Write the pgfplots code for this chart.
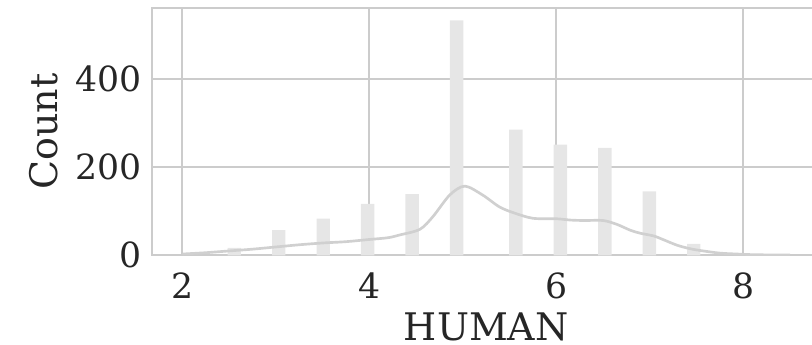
\documentclass[border=0pt]{standalone}
\usepackage{pgfplots}
\pgfplotsset{compat=1.18}
\usepackage{fontspec}
\setmainfont{DejaVu Serif}
\definecolor{gridc}{HTML}{CCCCCC}
\definecolor{barc}{HTML}{E6E6E6}
\definecolor{kdec}{HTML}{D0D0D0}
\definecolor{txt}{HTML}{262626}
\begin{document}
\begin{tikzpicture}
\clip (-114pt,-66.5pt) rectangle (495pt,191.5pt);
\begin{axis}[
  at={(0,0)}, anchor=south west, scale only axis,
  width=501.4pt, height=185.5pt,
  xmin=1.675, xmax=8.825, ymin=0, ymax=561,
  xtick={2,4,6,8}, ytick={0,200,400},
  grid=major, major grid style={gridc, line width=1.5pt},
  axis line style={gridc, line width=1.5pt},
  tick style={draw=none},
  /pgf/number format/assume math mode=true,
  ticklabel style={font=\fontsize{26}{30}\selectfont, text=txt},
  xticklabel style={anchor=base, yshift=-32pt},
  yticklabel style={anchor=east, xshift=-4.25pt},
  xlabel={HUMAN}, ylabel={Count},
  label style={font=\fontsize{28.5}{32}\selectfont, text=txt},
  xlabel style={at={([yshift=-63.5pt]axis description cs:0.5,0)}, anchor=base},
  ylabel style={at={([xshift=-70.5pt]axis description cs:0,0.5)}, anchor=base},
]
\addplot[ybar, bar width=0.143, fill=barc, draw=none] coordinates {
  (2.5549,17) (3.0305,57) (3.5061,83) (3.9817,117) (4.4573,139)
  (4.9329,533) (5.5671,285) (6.0427,251) (6.5183,244) (6.9939,145) (7.4695,26)
};
\addplot[kdec, line width=2pt, smooth, no marks] coordinates {
  (2.0,3) (2.25,6) (2.5,10) (2.75,14) (3.0,19) (3.25,24) (3.5,28) (3.75,31)
  (4.0,36) (4.2,40) (4.32,46) (4.54,59) (4.68,88) (4.86,137) (5.02,157)
  (5.21,137) (5.39,110) (5.55,96) (5.75,84) (6.0,83) (6.15,80) (6.3,79)
  (6.5,79) (6.65,70) (6.79,57) (6.9,50) (7.04,44) (7.15,35) (7.29,23)
  (7.43,15) (7.57,10) (7.75,5) (7.93,3) (8.1,1.5) (8.3,1) (8.5,0.8)
};
\end{axis}
\end{tikzpicture}
\end{document}
